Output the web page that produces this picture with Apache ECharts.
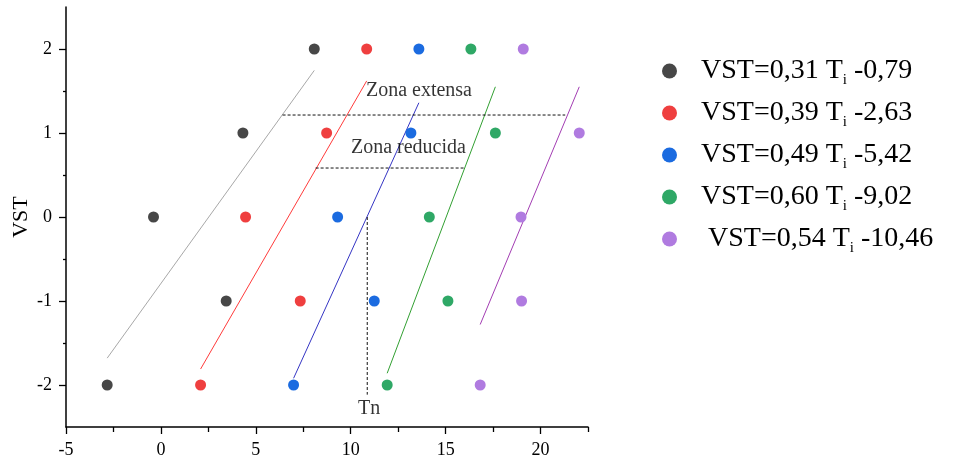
<!DOCTYPE html>
<html>
<head>
<meta charset="utf-8">
<script src="https://cdn.jsdelivr.net/npm/echarts@6/dist/echarts.min.js"></script>
<style>
html,body{margin:0;padding:0;background:#fff;}
#c{width:956px;height:460px;}
</style>
</head>
<body>
<div id="c"></div>
<script>
// ---- data ----
var yLevels = [2, 1, 0, -1, -2];
var blackX  = [8.08, 4.32, -0.39, 3.44, -2.83];
var redX    = [10.84, 8.73, 4.46, 7.34, 2.09];
var blueX   = [13.59, 13.17, 9.31, 11.24, 6.99];
var greenX  = [16.33, 17.62, 14.14, 15.12, 11.92];
var purpleX = [19.09, 22.04, 18.97, 19.00, 16.82];

// fitted line endpoints [[x1,y1],[x2,y2]]
var blackFit  = [[-2.83, -1.68], [8.08, 1.745]];
var redFit    = [[2.09, -1.81], [10.84, 1.62]];
var blueFit   = [[6.99, -1.92], [13.59, 1.36]];
var greenFit  = [[11.92, -1.86], [17.62, 1.55]];
var purpleFit = [[16.82, -1.28], [22.04, 1.55]];

var slopes     = ['0,31', '0,39', '0,49', '0,60', '0,54'];
var intercepts = ['-0,79', '-2,63', '-5,42', '-9,02', '-10,46'];
var legendLead = ['', '', '', '', ' '];

// annotation guides
var zonaExtensaLine  = [[6.41, 1.214], [21.3, 1.214]];
var zonaReducidaLine = [[8.15, 0.583], [15.98, 0.583]];
var tnLine           = [[10.87, 0], [10.87, -2.115]];
var annotations = [
  {text: 'Zona extensa',  pos: [10.8, 1.50]},
  {text: 'Zona reducida', pos: [10.01, 0.825]},
  {text: 'Tn',            pos: [10.38, -2.28]}
];

var xMajorTicks = [-5, 0, 5, 10, 15, 20];
var xMinorTicks = [-2.5, 2.5, 7.5, 12.5, 17.5, 22.5];
var yMajorTicks = [-2, -1, 0, 1, 2];
var yMinorTicks = [-1.5, -0.5, 0.5, 1.5];

// ---- styling ----
var FONT = "'Liberation Serif', 'Times New Roman', serif";
var dotColors  = ['#474747', '#ef3f3f', '#1b6be0', '#2fa866', '#b07be0'];
var lineColors = ['#a8a8a8', '#ff3b3b', '#3535c4', '#32a032', '#a33db3'];

var xs = [blackX, redX, blueX, greenX, purpleX];
var fits = [blackFit, redFit, blueFit, greenFit, purpleFit];

function pairs(xArr) {
  return xArr.map(function (x, i) { return [x, yLevels[i]]; });
}

var names = slopes.map(function (s, i) { return 'VST=' + s + ' Ti ' + intercepts[i]; });

var series = [];
fits.forEach(function (f, i) {
  series.push({
    name: 'fit' + i, type: 'line', data: f, showSymbol: false, symbol: 'none',
    xAxisIndex: 0, yAxisIndex: 0,
    lineStyle: {color: lineColors[i], width: 1}, silent: true, z: 2
  });
});
[zonaExtensaLine, zonaReducidaLine, tnLine].forEach(function (d, i) {
  series.push({
    name: 'guide' + i, type: 'line', data: d, showSymbol: false, symbol: 'none',
    xAxisIndex: 0, yAxisIndex: 0,
    lineStyle: {color: '#111', width: 1, type: [3, 2]}, silent: true, z: 2
  });
});
xs.forEach(function (arr, i) {
  series.push({
    name: names[i], type: 'scatter', data: pairs(arr), symbol: 'circle', symbolSize: 11,
    xAxisIndex: 0, yAxisIndex: 0,
    itemStyle: {color: dotColors[i], opacity: 1}, z: 3
  });
});
series.push({
  name: 'annot', type: 'scatter', symbolSize: 0, silent: true,
  xAxisIndex: 0, yAxisIndex: 0,
  data: annotations.map(function (a) { return {value: a.pos, name: a.text}; }),
  label: {
    show: true, position: [0, 0], align: 'left', verticalAlign: 'middle',
    formatter: function (p) { return p.name; },
    fontFamily: FONT, fontSize: 20, color: '#000'
  },
  z: 4
});

var chart = echarts.init(document.getElementById('c'), null, {renderer: 'canvas'});
chart.setOption({
  animation: false,
  backgroundColor: '#fff',
  grid: {left: 66, right: 368, top: 7, bottom: 33, containLabel: false, outerBoundsMode: 'none'},
  xAxis: [{
    type: 'value', min: -5, max: 22.5, interval: 5, position: 'bottom',
    axisLine: {show: true, onZero: false, lineStyle: {color: '#000', width: 1.5}},
    axisTick: {show: true, length: 7, customValues: xMajorTicks, lineStyle: {color: '#000', width: 1.3}},
    axisLabel: {show: true, customValues: xMajorTicks, margin: 14, fontFamily: FONT, fontSize: 18, color: '#000'},
    splitLine: {show: false}
  }, {
    type: 'value', min: -5, max: 22.5, interval: 5, position: 'bottom', offset: 0,
    axisLine: {show: false, onZero: false},
    axisTick: {show: true, length: 5, customValues: xMinorTicks, lineStyle: {color: '#000', width: 1.3}},
    axisLabel: {show: false},
    splitLine: {show: false}
  }],
  yAxis: [{
    type: 'value', min: -2.5, max: 2.5, position: 'left',
    name: 'VST', nameLocation: 'middle', nameRotate: 90, nameGap: 34, nameMoveOverlap: false,
    nameTextStyle: {fontFamily: FONT, fontSize: 22, color: '#000'},
    axisLine: {show: true, onZero: false, lineStyle: {color: '#000', width: 1.5}},
    axisTick: {show: true, length: 7, customValues: yMajorTicks, lineStyle: {color: '#000', width: 1.3}},
    axisLabel: {show: true, customValues: yMajorTicks, margin: 14, fontFamily: FONT, fontSize: 18, color: '#000'},
    splitLine: {show: false}
  }, {
    type: 'value', min: -2.5, max: 2.5, position: 'left', offset: 0,
    axisLine: {show: false, onZero: false},
    axisTick: {show: true, length: 3, customValues: yMinorTicks, lineStyle: {color: '#000', width: 1.3}},
    axisLabel: {show: false},
    splitLine: {show: false}
  }],
  legend: {
    data: names.map(function (n) { return {name: n, icon: 'circle'}; }),
    orient: 'vertical', left: 657, top: 52,
    itemWidth: 15, itemHeight: 15, itemGap: 11,
    selectedMode: false,
    itemStyle: {opacity: 1},
    formatter: function (name) {
      var i = names.indexOf(name);
      return '{a|' + legendLead[i] + 'VST=' + slopes[i] + ' T}{s|i}{b| ' + intercepts[i] + '}';
    },
    textStyle: {
      fontFamily: FONT, color: '#000',
      rich: {
        a: {fontFamily: FONT, fontSize: 28, lineHeight: 34, color: '#000', padding: [0, 0, 0, 19]},
        s: {fontFamily: FONT, fontSize: 15, lineHeight: 8, verticalAlign: 'bottom', color: '#000'},
        b: {fontFamily: FONT, fontSize: 28, lineHeight: 34, color: '#000'}
      }
    }
  },
  series: series
});
</script>
</body>
</html>
